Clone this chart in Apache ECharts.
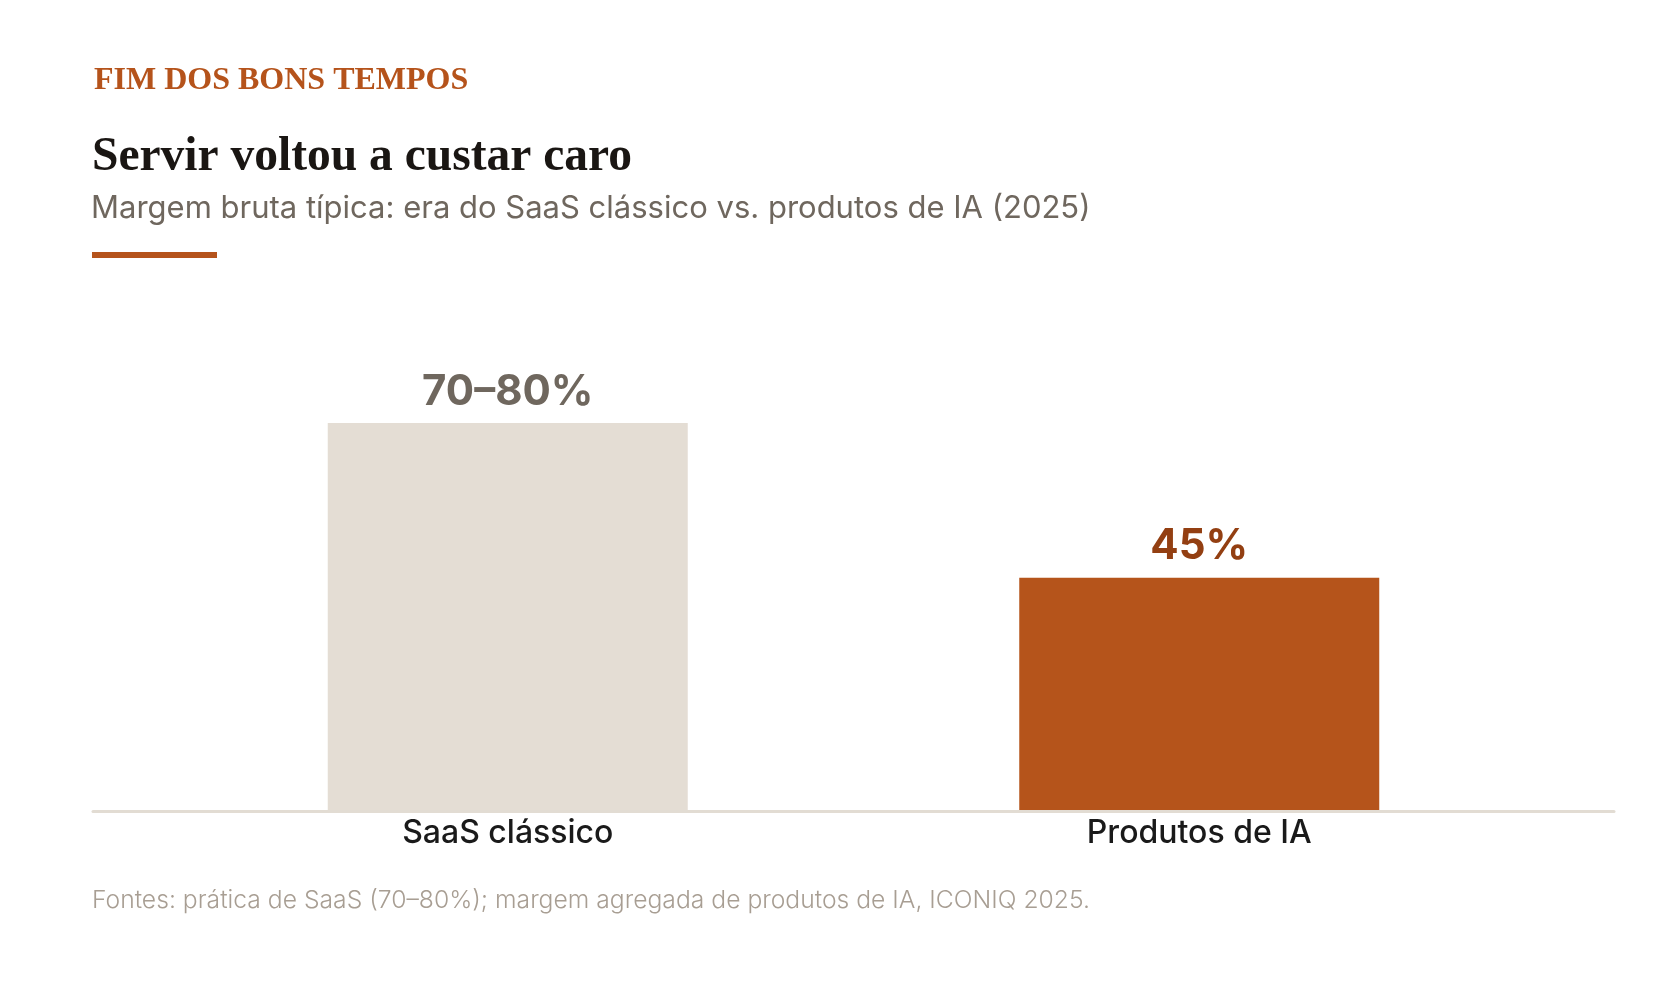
<!DOCTYPE html>
<html lang="pt-BR">
<head>
<meta charset="utf-8">
<title>Servir voltou a custar caro</title>
<script src="https://cdn.jsdelivr.net/npm/echarts@6/dist/echarts.min.js"></script>
<style>
    html, body { margin: 0; padding: 0; background: #ffffff; }
    #chart { width: 1672px; height: 983px; }
</style>
</head>
<body>
<div id="chart"></div>
<script>
// dados do gráfico
const categories = ['SaaS clássico', 'Produtos de IA'];
const margins = [75, 45];               // ponto médio de 70–80% e 45%
const valueLabels = ['70–80%', '45%'];
const barColors = ['#e4ddd4', '#b5541b'];
const labelColors = ['#6f675e', '#933f12'];

const sans = 'Inter, "Noto Sans", sans-serif';
const serif = '"Liberation Serif", "DejaVu Serif", serif';

const chart = echarts.init(document.getElementById('chart'));

const option = {
    backgroundColor: '#ffffff',
    animation: false,
    title: [
        {
            text: 'FIM DOS BONS TEMPOS',
            left: 89, top: 60,
            textStyle: { fontFamily: serif, fontSize: 32, lineHeight: 32, fontWeight: 'bold', color: '#b5531b' }
        },
        {
            text: 'Servir voltou a custar caro',
            left: 87, top: 129,
            textStyle: { fontFamily: serif, fontSize: 47.5, lineHeight: 47.5, fontWeight: 'bold', color: '#1a1613' }
        },
        {
            text: 'Margem bruta típica: era do SaaS clássico vs. produtos de IA (2025)',
            left: 86, top: 188,
            textStyle: { fontFamily: sans, fontSize: 31, lineHeight: 31, fontWeight: 'normal', color: '#6f675e' }
        },
        {
            text: 'Fontes: prática de SaaS (70–80%); margem agregada de produtos de IA, ICONIQ 2025.',
            left: 87, top: 883,
            textStyle: { fontFamily: sans, fontSize: 24.7, lineHeight: 25, fontWeight: 300, color: '#a89e93' }
        }
    ],
    // filete de destaque abaixo do subtítulo
    graphic: [
        { type: 'rect', shape: { x: 92, y: 252, width: 125, height: 6 }, style: { fill: '#b5531b' } }
    ],
    grid: [
        { left: 162, right: 127, top: 294, bottom: 173 },
        // grade só para a linha de base, mais larga que as barras
        { left: 93, right: 58, top: 294, bottom: 172 }
    ],
    xAxis: [
        {
            type: 'category',
            data: categories,
            axisLine: { show: false },
            axisTick: { show: false },
            axisLabel: { fontFamily: sans, fontSize: 32, lineHeight: 32, fontWeight: 500, color: '#1a1a1a', margin: 7 }
        },
        {
            type: 'value', gridIndex: 1,
            axisLine: { show: true, lineStyle: { color: '#e2dcd3', width: 3 } },
            axisTick: { show: false },
            axisLabel: { show: false },
            splitLine: { show: false }
        }
    ],
    yAxis: [
        { type: 'value', min: 0, max: 100, show: false, splitLine: { show: false } },
        { type: 'value', gridIndex: 1, show: false, splitLine: { show: false } }
    ],
    series: [
        {
            type: 'bar',
            barWidth: 360,
            data: margins.map((v, i) => ({
                value: v,
                itemStyle: { color: barColors[i] },
                label: { color: labelColors[i] }
            })),
            label: {
                show: true,
                position: 'top',
                distance: 10,
                fontFamily: sans,
                fontSize: 42,
                lineHeight: 42,
                fontWeight: 'bold',
                formatter: p => valueLabels[p.dataIndex]
            }
        }
    ]
};

chart.setOption(option);
</script>
</body>
</html>
